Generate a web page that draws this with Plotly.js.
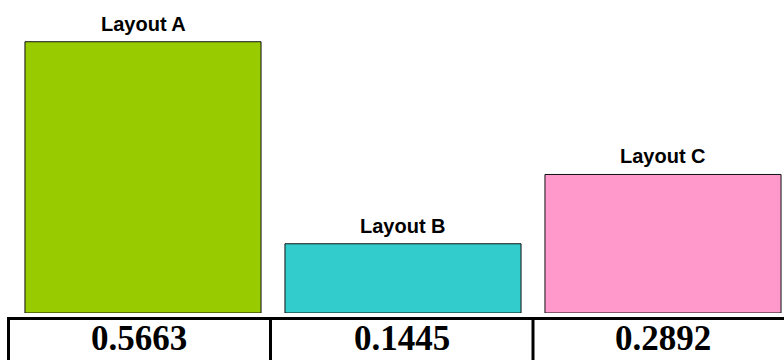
<!DOCTYPE html>
<html>
<head>
<meta charset="utf-8">
<script src="https://cdn.plot.ly/plotly-3.0.1.min.js"></script>
<style>
html,body{margin:0;padding:0;background:#fff;}
#chart{width:784px;height:360px;}
</style>
</head>
<body>
<div id="chart"></div>
<script>
const categories = ["Layout A", "Layout B", "Layout C"];
const values = [0.5663, 0.1445, 0.2892];
const barColors = ["#99CC00", "#33CCCC", "#FF99CC"];

const W = 784, H = 360;
const M = {l: 13, r: 0, t: 20, b: 47};
const plotW = W - M.l - M.r, plotH = H - M.t - M.b;
const px2paperX = p => (p - M.l) / plotW;
const px2paperY = p => (H - M.b - p) / plotH;

const xIdx = categories.map((c, i) => i);

const trace = {
  type: "bar",
  x: xIdx,
  y: values,
  width: 0.908,
  marker: {color: barColors, line: {color: "#111", width: 1}},
  hoverinfo: "none"
};

const colShift = [-4, -1, 0];
const annotations = [];
categories.forEach((c, i) => {
  annotations.push({
    x: i, y: values[i], xref: "x", yref: "y",
    text: "<b>" + c + "</b>", showarrow: false,
    yanchor: "bottom", yshift: 5,
    font: {family: "Liberation Sans, Arial, sans-serif", size: 20, color: "#000"}
  });
  annotations.push({
    x: i, y: px2paperY(360), xref: "x", yref: "paper", xshift: colShift[i],
    text: "<b>" + values[i].toFixed(4) + "</b>", showarrow: false,
    yanchor: "bottom",
    font: {family: "Liberation Serif, Times New Roman, serif", size: 35, color: "#000"}
  });
});

const lineStyle = {color: "#000", width: 3};
const yTop = px2paperY(318.5), yBot = px2paperY(380);
const shapes = [
  {type: "line", xref: "paper", yref: "paper", x0: px2paperX(7), x1: px2paperX(790), y0: yTop, y1: yTop, line: lineStyle},
  {type: "line", xref: "paper", yref: "paper", x0: px2paperX(8.5), x1: px2paperX(8.5), y0: yTop, y1: yBot, line: lineStyle},
  {type: "line", xref: "paper", yref: "paper", x0: px2paperX(270.5), x1: px2paperX(270.5), y0: yTop, y1: yBot, line: lineStyle},
  {type: "line", xref: "paper", yref: "paper", x0: px2paperX(533), x1: px2paperX(533), y0: yTop, y1: yBot, line: lineStyle}
];

const layout = {
  width: W, height: H,
  margin: M,
  paper_bgcolor: "#fff", plot_bgcolor: "#fff",
  showlegend: false,
  xaxis: {range: [-0.5, -0.5 + plotW / 260], visible: false, fixedrange: true},
  yaxis: {range: [0, plotH / 479], visible: false, fixedrange: true},
  annotations: annotations,
  shapes: shapes
};

Plotly.newPlot("chart", [trace], layout, {displayModeBar: false, staticPlot: true});
</script>
</body>
</html>
